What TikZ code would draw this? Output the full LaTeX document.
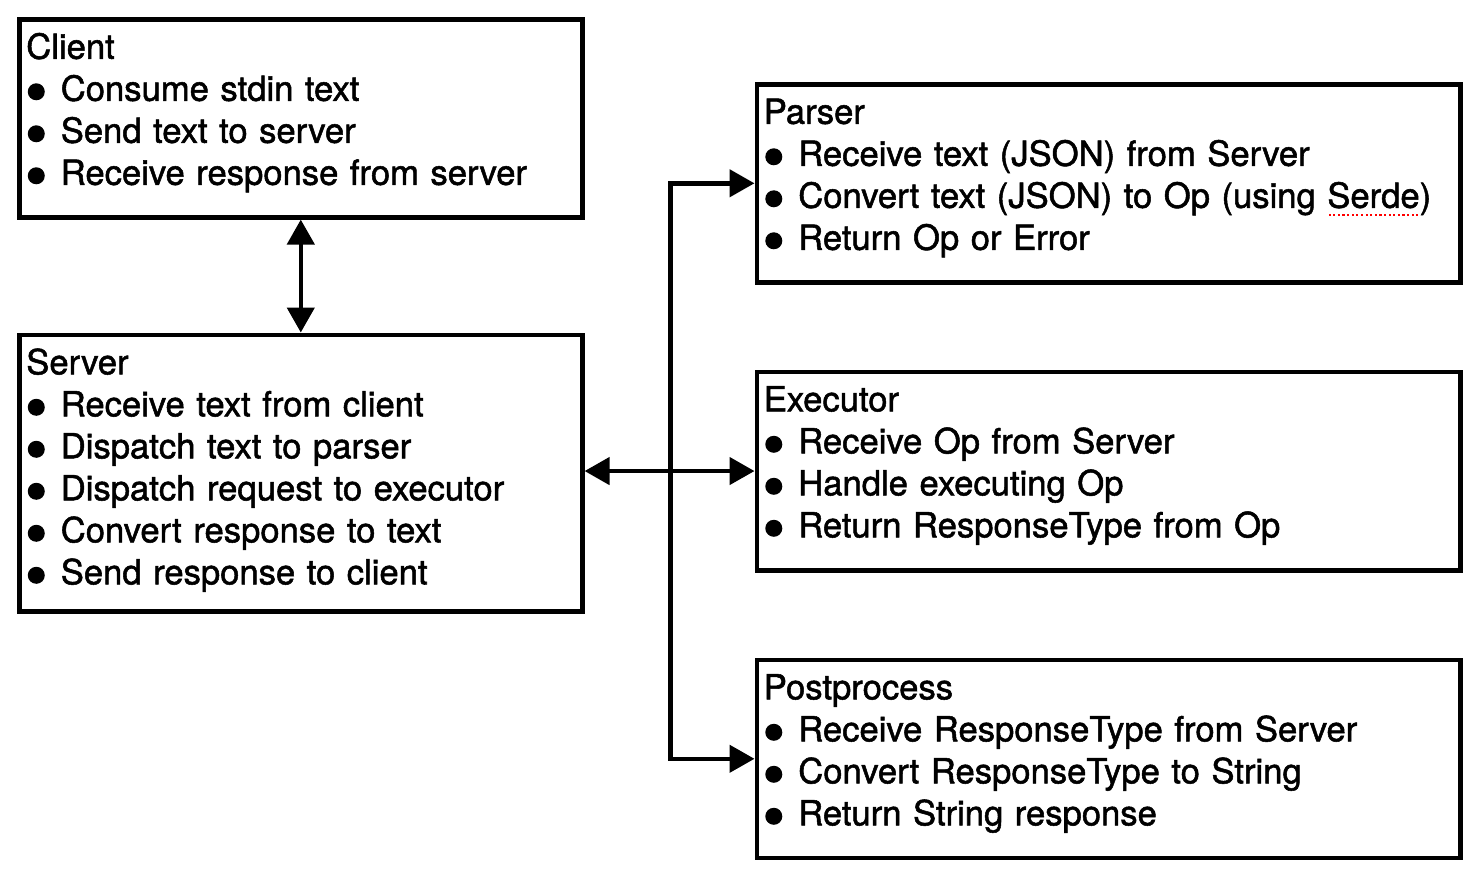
\documentclass[tikz,border=0pt]{standalone}
\usepackage{fontspec}
\setmainfont{TeX Gyre Heros}[FakeBold=1.5]
\usepackage{tikz}
\usetikzlibrary{arrows.meta}

\newsavebox{\spellbox}
\newcommand{\itm}{\\\makebox[0.345cm][l]{\hspace{0.015cm}\tikz[baseline=-0.09cm]\fill (0,0) circle (0.085);}}
\newcommand{\spellmark}[1]{\sbox{\spellbox}{#1}\rlap{\textcolor{red}{\raisebox{-0.45ex}{\hbox to \wd\spellbox{\xleaders\hbox to 1.3pt{\hss\rule{0.6pt}{0.6pt}\hss}\hfill}}}}\usebox{\spellbox}}

\begin{document}
\begin{tikzpicture}[
        box/.style={draw, line width=1.3pt, anchor=north west, inner xsep=0.07cm, inner ysep=0pt,
            align=left, text height=0.395cm, text depth=1.585cm,
            font={\fontsize{9.85pt}{11.95pt}\selectfont}},
        left box/.style={box, text width=5.49cm},
        right box/.style={box, text width=6.895cm},
        link/.style={line width=1.3pt, line join=miter,
            {Triangle[length=0.25cm,width=0.27cm]}-{Triangle[length=0.25cm,width=0.27cm]}}
    ]
            \useasboundingbox (0,0) rectangle (14.82,-8.92);
            \node[left box] (client) at (0.17,-0.17) {Client
                \itm Consume stdin text
                \itm Send text to server
                \itm Receive response from server};
            \node[left box, text depth=2.37cm] (server) at (0.17,-3.325) {Server
                \itm Receive text from client
                \itm Dispatch text to parser
                \itm Dispatch request to executor
                \itm Convert response to text
                \itm Send response to client};
            \node[right box, text depth=1.585cm] (parser) at (7.545,-0.82) {Parser
                \itm Receive text (JSON) from Server
                \itm Convert text (JSON) to Op (using \spellmark{Serde})
                \itm Return Op or Error};
            \node[right box, text depth=1.59cm] (executor) at (7.545,-3.695) {Executor
                \itm Receive Op from Server
                \itm Handle executing Op
                \itm Return ResponseType from Op};
            \node[right box] (post) at (7.545,-6.575) {Postprocess
                \itm Receive ResponseType from Server
                \itm Convert ResponseType to String
                \itm Return String response};
            \coordinate (fork) at (6.705,0);
            \draw[link] (client) -- (server);
            \draw[link] (server.east |- executor.west) -- (executor.west);
            \draw[link] (parser.west) -| (fork |- post.west) -- (post.west);
        \end{tikzpicture}
\end{document}
